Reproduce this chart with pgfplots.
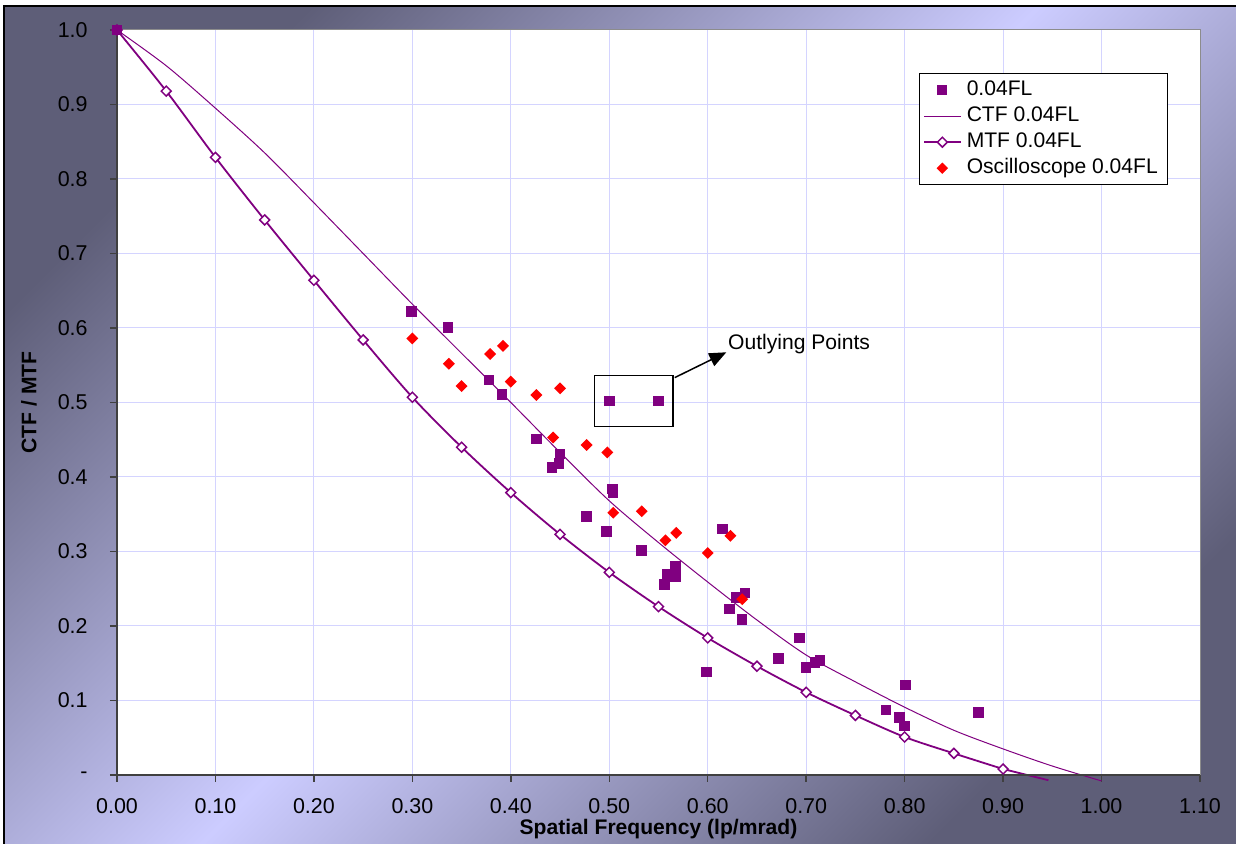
\documentclass[border=0pt]{standalone}
\usepackage{fontspec}
\setmainfont{Liberation Sans}
\usepackage{pgfplots}
\pgfplotsset{compat=1.18}
\usetikzlibrary{arrows.meta}
\definecolor{dk}{HTML}{5E5E78}
\definecolor{lt}{HTML}{CCCCFF}
\definecolor{pur}{HTML}{800080}
\definecolor{grd}{HTML}{D4D4FF}
\pgfplotsset{mylegimg/.style={legend image code/.code={\draw[mark repeat=2,mark phase=2,##1] plot coordinates {(0mm,0mm) (1.8mm,0mm) (3.6mm,0mm)};}}}
\begin{document}
\begin{tikzpicture}
\useasboundingbox (0mm,0mm) rectangle (123.6mm,84.4mm);
\fill[white] (0mm,0mm) rectangle (123.6mm,84.4mm);
\shade[top color=dk, bottom color=dk, middle color=lt, shading angle=45] (0.4mm,0mm) rectangle (123.6mm,83.8mm);
\draw[black, line width=0.15mm] (0.4mm,0mm) -- (0.4mm,83.8mm) -- (123.6mm,83.8mm);
\begin{axis}[
  at={(11.7mm,6.9mm)}, anchor=south west,
  scale only axis, width=108.3mm, height=74.5mm,
  xmin=0, xmax=1.1, ymin=0, ymax=1,
  clip=false,
  axis background/.style={fill=white},
  xtick={0,0.1,0.2,0.3,0.4,0.5,0.6,0.7,0.8,0.9,1.0,1.1},
  xticklabels={0.00,0.10,0.20,0.30,0.40,0.50,0.60,0.70,0.80,0.90,1.00,1.10},
  ytick={0,0.1,0.2,0.3,0.4,0.5,0.6,0.7,0.8,0.9,1.0},
  yticklabels={-,0.1,0.2,0.3,0.4,0.5,0.6,0.7,0.8,0.9,1.0},
  grid=major, major grid style={grd, line width=0.1mm},
  axis line style={black!45, line width=0.1mm},
  tick align=outside, xtick pos=bottom, ytick pos=left,
  major tick length=0.7mm, tick style={black!75, line width=0.15mm},
  ticklabel style={font=\fontsize{6.1}{7}\selectfont},
  yticklabel style={xshift=-1.0mm},
  xticklabel style={yshift=-0.4mm},
  xlabel={\textbf{Spatial Frequency (lp/mrad)}},
  ylabel={\textbf{CTF / MTF}},
  every axis x label/.style={at={(axis description cs:0.5,-0.0725)}, anchor=center, font=\fontsize{6}{7}\selectfont},
  every axis y label/.style={at={(axis description cs:-0.0813,0.5)}, anchor=center, rotate=90, font=\fontsize{6}{7}\selectfont},
  legend style={at={(rel axis cs:0.7405,0.9420)}, anchor=north west, draw=black, line width=0.1mm, fill=white,
    font=\fontsize{6}{7}\selectfont, inner xsep=0.4mm, inner ysep=0.35mm,
    nodes={inner ysep=0.3mm, inner xsep=0.55mm, text height=1.55mm, text depth=0.45mm}, cells={anchor=west}},
  mylegimg,
]
\addplot[only marks, mark=square*, mark size=1.3pt, color=pur, mylegimg]
coordinates {
(0.000,1.000) (0.299,0.622) (0.336,0.601) (0.378,0.530) (0.391,0.511)
(0.426,0.451) (0.442,0.413) (0.449,0.418) (0.450,0.431) (0.477,0.347)
(0.497,0.327) (0.503,0.384) (0.504,0.379) (0.500,0.502) (0.550,0.502)
(0.533,0.301) (0.556,0.256) (0.559,0.270) (0.567,0.280) (0.567,0.266)
(0.599,0.138) (0.615,0.330) (0.622,0.223) (0.629,0.238) (0.635,0.209)
(0.638,0.244) (0.672,0.156) (0.693,0.184) (0.700,0.144) (0.709,0.151)
(0.714,0.154) (0.781,0.087) (0.795,0.077) (0.800,0.066) (0.801,0.121)
(0.875,0.084)
};
\addlegendentry{0.04FL}
\addplot[smooth, no markers, color=pur, line width=0.1mm]
coordinates {
(0.00,1.000) (0.05,0.952) (0.10,0.895) (0.15,0.835) (0.20,0.768)
(0.25,0.700) (0.30,0.632) (0.35,0.566) (0.40,0.500) (0.45,0.433)
(0.50,0.368) (0.55,0.312) (0.60,0.259) (0.65,0.208) (0.70,0.161)
(0.75,0.125) (0.80,0.091) (0.85,0.060) (0.90,0.035) (0.95,0.012)
(1.00,-0.008)
};
\addlegendentry{CTF 0.04FL}
\addplot[smooth, color=pur, line width=0.18mm, mark=square*, mark size=1.0pt,
  mark options={rotate=45, fill=white, draw=pur, line width=0.15mm}]
coordinates {
(0.00,1.000) (0.05,0.918) (0.10,0.829) (0.15,0.745) (0.20,0.664)
(0.25,0.584) (0.30,0.507) (0.35,0.440) (0.40,0.379) (0.45,0.323)
(0.50,0.272) (0.55,0.226) (0.60,0.184) (0.65,0.146) (0.70,0.111)
(0.75,0.080) (0.80,0.051) (0.85,0.029) (0.90,0.008)
};
\addlegendentry{MTF 0.04FL}
\addplot[color=pur, line width=0.18mm, forget plot] coordinates {(0.90,0.008) (0.946,-0.007)};
\addplot[only marks, mark=square*, mark size=1.0pt, mark options={rotate=45}, color=red, mylegimg]
coordinates {
(0.300,0.586) (0.337,0.552) (0.350,0.522) (0.379,0.565) (0.392,0.576)
(0.400,0.528) (0.426,0.510) (0.450,0.519) (0.443,0.453) (0.477,0.443)
(0.498,0.433) (0.504,0.352) (0.533,0.354) (0.557,0.315) (0.568,0.325)
(0.600,0.298) (0.623,0.321) (0.635,0.236)
};
\addlegendentry{Oscilloscope 0.04FL}
\addplot[only marks, mark=square*, mark size=1.3pt, color=pur, forget plot] coordinates {(0.000,1.000)};
\draw[black!75, line width=0.2mm] (rel axis cs:0,1) -- (rel axis cs:0,0) -- (rel axis cs:1,0);
\draw[black, line width=0.15mm] (axis cs:0.4848,0.468) rectangle (axis cs:0.5647,0.5365);
\draw[black, line width=0.15mm, -{Triangle[length=1.7mm,width=1.4mm]}] (axis cs:0.5665,0.5334) -- (axis cs:0.6189,0.5674);
\node[anchor=west, inner sep=0pt, font=\fontsize{6}{7}\selectfont] at (axis cs:0.620,0.5785) {Outlying Points};
\end{axis}
\end{tikzpicture}
\end{document}
